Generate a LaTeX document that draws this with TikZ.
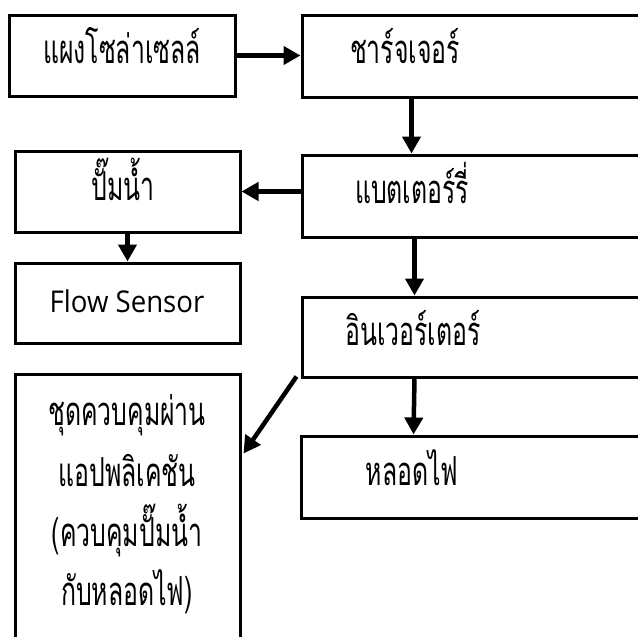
\documentclass[tikz,border=0pt]{standalone}
\usepackage{fontspec}
\setmainfont{Open Sans}
\newfontfamily\latinfont[FakeStretch=0.92]{Open Sans}
\newfontfamily\thaifont[Script=Thai,FakeStretch=0.62]{Loma}
\usetikzlibrary{arrows.meta,calc}
\begin{document}
\begin{tikzpicture}[x=1pt,y=-1pt,
  box/.style={draw,line width=3pt,rectangle,inner sep=0pt},
  lbl/.style={anchor=base,inner sep=0pt,font=\thaifont\fontsize{40}{44}\selectfont},
  arr/.style={line width=4.5pt,-{Triangle[length=17pt,width=18pt]}}]
\clip (0,0) rectangle (638,637);
\fill[white] (0,0) rectangle (638,637);
% boxes
\node[box,minimum width=226pt,minimum height=81pt] (solar) at (122,55.5) {};
\node[box,minimum width=358pt,minimum height=82pt] (charger) at (481,56) {};
\node[box,minimum width=358pt,minimum height=82pt] (battery) at (481,196) {};
\node[box,minimum width=225pt,minimum height=81pt] (pump) at (127.5,191.5) {};
\node[box,minimum width=225pt,minimum height=80pt] (flow) at (127.5,303) {};
\node[box,minimum width=358pt,minimum height=80pt] (inverter) at (481,337) {};
\node[box,minimum width=359pt,minimum height=82pt] (lamp) at (480.5,477) {};
\node[box,minimum width=225pt,minimum height=286pt] (ctl) at (127.5,517) {};
% texts
\node[lbl] (solarT) at (122,63) {แผงโซล่าเซลล์};
\node[lbl] (chargerT) at (405,63) {ชาร์จเจอร์};
\node[lbl] (batteryT) at (412,203) {แบตเตอร์รี่};
\node[lbl] (pumpT) at (123,200) {ปั๊มน้ำ};
\node[anchor=base,inner sep=0pt,font=\latinfont\fontsize{30}{32}\selectfont] (flowT) at (127,312) {Flow Sensor};
\node[lbl] (inverterT) at (413,345) {อินเวอร์เตอร์};
\node[lbl] (lampT) at (412,485) {หลอดไฟ};
\node[lbl] (ctl1) at (127,425) {ชุดควบคุมผ่าน};
\node[lbl] (ctl2) at (127,486) {แอปพลิเคชัน};
\node[lbl] (ctl3) at (127,546) {(ควบคุมปั๊มน้ำ};
\node[lbl] (ctl4) at (127,605) {กับหลอดไฟ)};
% connectors
\draw[arr] (solar.east) -- (solar.east -| charger.west);
\draw[arr] ($(charger.south west)+(111,0)$) -- ($(battery.north west)+(111,0)$);
\draw[arr] (battery.west |- pump.east) -- (pump.east);
\draw[arr] (pump.south) -- (flow.north);
\draw[arr] ($(battery.south west)+(114,0)$) -- ($(inverter.north west)+(114,0)$);
\draw[arr] ($(inverter.south west)+(114,0)$) -- ($(lamp.north west)+(114,0)$);
\coordinate (dstart) at ($(inverter.south west)+(-4,-2)$);
\draw[arr] (dstart) -- ($(ctl.north east)+(2,81)$);
\end{tikzpicture}
\end{document}
